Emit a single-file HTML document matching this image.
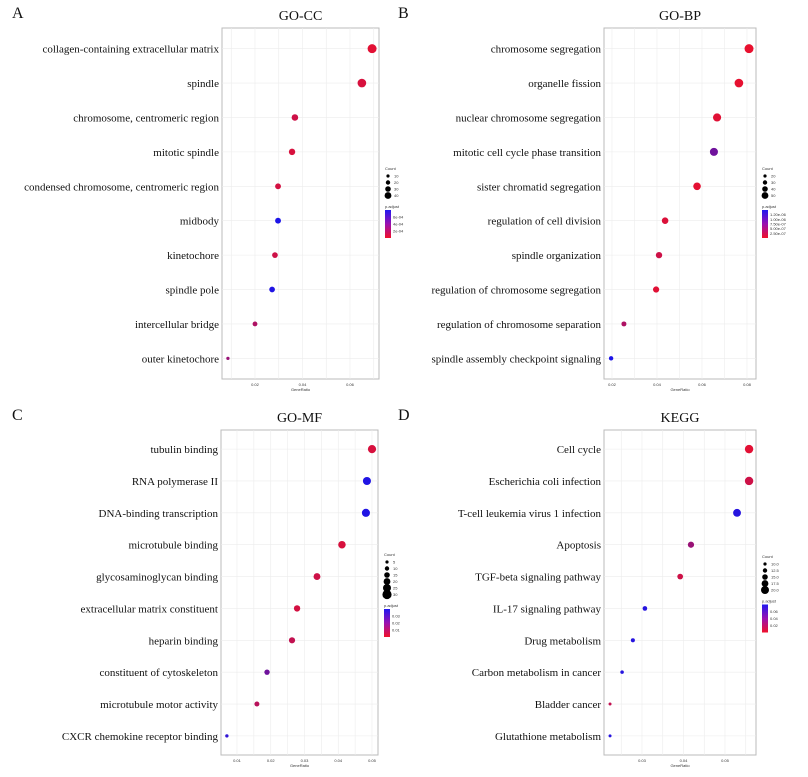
<!DOCTYPE html>
<html><head><meta charset="utf-8">
<style>
body{margin:0;background:#fff;width:808px;height:777px;overflow:hidden}
svg{display:block}
.lab{font-family:"Liberation Serif",serif;font-size:11px;fill:#111}
.ttl{font-family:"Liberation Serif",serif;font-size:14px;fill:#111}
.pl{font-family:"Liberation Serif",serif;font-size:16px;fill:#111}
.tk{font-family:"Liberation Sans",sans-serif;font-size:4px;fill:#333}
</style></head><body>
<svg id="chart" width="808" height="777" xmlns="http://www.w3.org/2000/svg">
<defs><linearGradient id="pg" x1="0" y1="0" x2="0" y2="1"><stop offset="0" stop-color="#2018f0"/><stop offset="0.5" stop-color="#9a10b0"/><stop offset="1" stop-color="#f0102a"/></linearGradient></defs>
</svg>
<script>
// ---- Panel A: GO-CC
const ccTerms=["collagen-containing extracellular matrix","spindle","chromosome, centromeric region","mitotic spindle","condensed chromosome, centromeric region","midbody","kinetochore","spindle pole","intercellular bridge","outer kinetochore"];
const ccRatio=[0.0693,0.065,0.0368,0.0356,0.0297,0.0297,0.0284,0.0272,0.020,0.0086];
const ccCount=[45,42,24,23,19,19,18,18,13,6];
const ccPadj=[0.05,0.1,0.15,0.1,0.12,1.0,0.15,0.98,0.3,0.4];
const ccTicks=[0.02,0.04,0.06];
const ccLegend=["10","20","30","40"];
const ccPLegend=["6e-04","4e-04","2e-04"];
// ---- Panel B: GO-BP
const bpTerms=["chromosome segregation","organelle fission","nuclear chromosome segregation","mitotic cell cycle phase transition","sister chromatid segregation","regulation of cell division","spindle organization","regulation of chromosome segregation","regulation of chromosome separation","spindle assembly checkpoint signaling"];
const bpRatio=[0.0809,0.0764,0.0667,0.0653,0.0578,0.0436,0.0409,0.0396,0.0253,0.0196];
const bpCount=[62,58,51,50,44,33,31,30,19,15];
const bpPadj=[0.02,0.03,0.06,0.6,0.04,0.08,0.15,0.06,0.3,1.0];
const bpTicks=[0.02,0.04,0.06,0.08];
const bpLegend=["20","30","40","50"];
const bpPLegend=["1.20e-06","1.00e-06","7.50e-07","5.00e-07","2.50e-07"];
// ---- Panel C: GO-MF
const mfTerms=["tubulin binding","RNA polymerase II","DNA-binding transcription","microtubule binding","glycosaminoglycan binding","extracellular matrix constituent","heparin binding","constituent of cytoskeleton","microtubule motor activity","CXCR chemokine receptor binding"];
const mfRatio=[0.050,0.0485,0.0482,0.0411,0.0337,0.0278,0.0263,0.0189,0.0159,0.0070];
const mfCount=[30,29,29,25,21,18,17,13,11,5];
const mfPadj=[0.1,0.98,0.98,0.1,0.15,0.12,0.2,0.6,0.25,0.9];
const mfTicks=[0.01,0.02,0.03,0.04,0.05];
const mfLegend=["5","10","15","20","25","30"];
const mfPLegend=["0.03","0.02","0.01"];
// ---- Panel D: KEGG
const kgTerms=["Cell cycle","Escherichia coli infection","T-cell leukemia virus 1 infection","Apoptosis","TGF-beta signaling pathway","IL-17 signaling pathway","Drug metabolism","Carbon metabolism in cancer","Bladder cancer","Glutathione metabolism"];
const kgRatio=[0.0558,0.0558,0.0529,0.0418,0.0392,0.0307,0.0278,0.0252,0.0223,0.0223];
const kgCount=[20,20,19,16,15,13,12,11,10,10];
const kgPadj=[0.05,0.15,0.95,0.4,0.15,0.95,0.95,0.95,0.2,0.95];
const kgTicks=[0.03,0.04,0.05];
const kgLegend=["10.0","12.5","15.0","17.5","20.0"];
const kgPLegend=["0.06","0.04","0.02"];

const svg=document.getElementById('chart');
const NS='http://www.w3.org/2000/svg';
function mk(tag,at,parent){const e=document.createElementNS(NS,tag);for(const k in at)e.setAttribute(k,at[k]);(parent||svg).appendChild(e);return e;}
function col(t){const r=Math.round(236+(28-236)*t),g=Math.round(16+(20-16)*t),b=Math.round(42+(232-42)*t);return `rgb(${r},${g},${b})`;}

function panel(o){
  const g=mk('g',{});
  
  
  const x=v=>o.x0+(v-o.v0)*o.k;
  const rad=c=>o.lin?o.lin[0]+(o.lin[1]-o.lin[0])*(c-o.lin[2])/(o.lin[3]-o.lin[2]):o.rk*Math.sqrt(c);
  const n=o.terms.length;
  const step=(o.bottom-o.top)/(n+0.2);
  const y=i=>o.top+step*(0.6+i);
  const box=mk('rect',{x:o.left,y:o.top,width:o.right-o.left,height:o.bottom-o.top,fill:'#fff',stroke:'#bbb','stroke-width':1},g);
  
  
  const tstep=o.ticks[1]-o.ticks[0];
  for(let v=o.ticks[0]-tstep*1.5;v<=o.ticks[o.ticks.length-1]+tstep*1.5;v+=tstep/2){const px=x(v);if(px>o.left&&px<o.right)mk('line',{x1:px,x2:px,y1:o.top,y2:o.bottom,stroke:'#ececec','stroke-width':0.6},g);}
  for(let i=0;i<n;i++)mk('line',{x1:o.left,x2:o.right,y1:y(i),y2:y(i),stroke:'#ececec','stroke-width':0.6},g);
  o.ticks.forEach(v=>{const t=mk('text',{x:x(v),y:o.bottom+7,'text-anchor':'middle',class:'tk'},g);t.textContent=v.toFixed(2);
    
    });
  const xt=mk('text',{x:(o.left+o.right)/2,y:o.bottom+12,'text-anchor':'middle',class:'tk'},g);xt.textContent='GeneRatio';
  
  
  o.terms.forEach((t,i)=>{const e=mk('text',{x:o.left-3,y:y(i)+4,'text-anchor':'end',class:'lab'},g);e.textContent=t;
    
    
    const c=mk('circle',{cx:x(o.ratio[i]),cy:y(i),r:rad(o.count[i]),fill:col(o.padj[i])},g);
    
    });
  const ti=mk('text',{x:(o.left+o.right)/2,y:o.top-8,'text-anchor':'middle',class:'ttl'},g);ti.textContent=o.title;
  
  
  const pl=mk('text',{x:o.plx,y:o.top-10,class:'pl'},g);pl.textContent=o.letter;
  
  
  const lx=o.right+6;let ly=o.ly;
  const lt=mk('text',{x:lx,y:ly,class:'tk'},g);lt.textContent='Count';
  
  
  ly+=6;
  o.legend.forEach((s,i)=>{const r=1.6+i*0.6;mk('circle',{cx:lx+3,cy:ly,r:r,fill:'#000'},g);const t=mk('text',{x:lx+9,y:ly+1.5,class:'tk'},g);t.textContent=s;
    
    
    ly+=6.5;});
  ly+=6;
  const pt=mk('text',{x:lx,y:ly,class:'tk'},g);pt.textContent='p.adjust';
  
  
  const bh=28;const cb=mk('rect',{x:lx,y:ly+2,width:6,height:bh,fill:'url(#pg)'},g);
  
  
  o.plegend.forEach((s,i)=>{const t=mk('text',{x:lx+8,y:ly+2+bh*(i+1)/(o.plegend.length+1)+1.5,class:'tk'},g);t.textContent=s;
    
    });
}
panel({name:'panel-go-cc',letter:'A',plx:12,title:'GO-CC',terms:ccTerms,ratio:ccRatio,count:ccCount,padj:ccPadj,ticks:ccTicks,legend:ccLegend,plegend:ccPLegend,left:222,right:379,top:28,bottom:379,x0:255,v0:0.02,k:2375,rk:0.67,ly:170});
panel({name:'panel-go-bp',letter:'B',plx:398,title:'GO-BP',terms:bpTerms,ratio:bpRatio,count:bpCount,padj:bpPadj,ticks:bpTicks,legend:bpLegend,plegend:bpPLegend,left:604,right:756,top:28,bottom:379,x0:612,v0:0.02,k:2250,rk:0.57,ly:170});
panel({name:'panel-go-mf',letter:'C',plx:12,title:'GO-MF',terms:mfTerms,ratio:mfRatio,count:mfCount,padj:mfPadj,ticks:mfTicks,legend:mfLegend,plegend:mfPLegend,left:221,right:378,top:430,bottom:755,x0:237,v0:0.01,k:3375,rk:0.75,ly:556});
panel({name:'panel-kegg',letter:'D',plx:398,title:'KEGG',terms:kgTerms,ratio:kgRatio,count:kgCount,padj:kgPadj,ticks:kgTicks,legend:kgLegend,plegend:kgPLegend,left:604,right:756,top:430,bottom:755,x0:642,v0:0.03,k:4150,lin:[1.5,4.2,10,20],ly:558});
</script>
</body></html>
